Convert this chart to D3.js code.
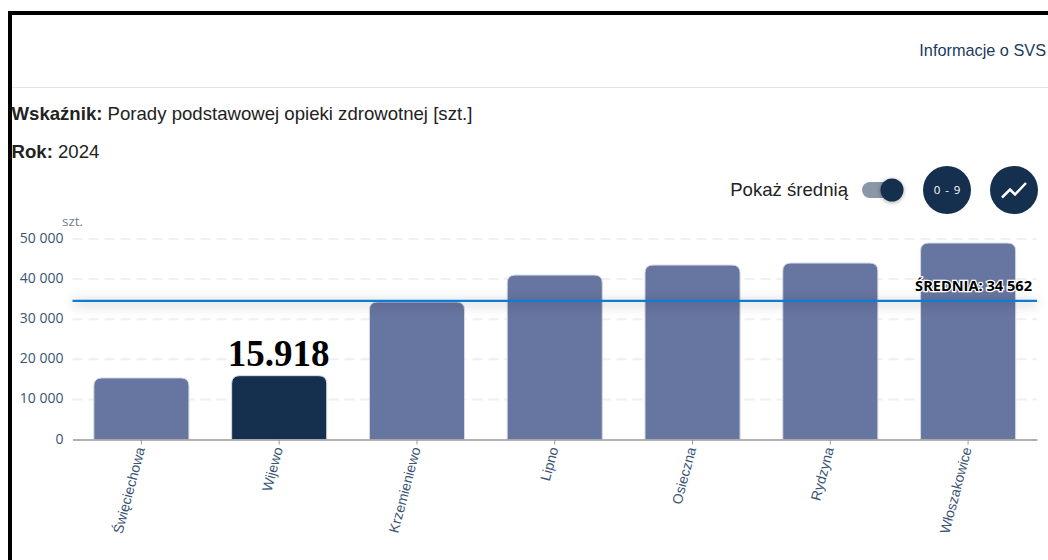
<!DOCTYPE html>
<html>
<head>
<meta charset="utf-8">
<script src="https://cdn.jsdelivr.net/npm/d3@7"></script>
<style>
    html, body { margin: 0; padding: 0; background: #fff; overflow: hidden; }
    svg { display: block; }
</style>
</head>
<body>
<section></section>
<script>
const gminy = ["Święciechowa", "Wijewo", "Krzemieniewo", "Lipno", "Osieczna", "Rydzyna", "Włoszakowice"];
const porady = [15350, 15918, 34300, 41000, 43500, 44000, 49000];
const yTicks = [0, 10000, 20000, 30000, 40000, 50000];
const srednia = 34562;
const wybrana = "Wijewo";

const width = 1048;
const height = 560;
const marginTop = 239;
const marginRight = 11;
const marginBottom = 120.5;
const marginLeft = 72.5;

const sans = "'Liberation Sans', Arial, sans-serif";
const navy = "#152f4e";
const tickColor = "#3a5474";

const fmt = d => d3.format(",")(d).replace(/,/g, " ");

const x = d3.scaleBand()
    .domain(gminy)
    .range([marginLeft, width - marginRight])
    .paddingInner(0.31)
    .paddingOuter(0.155);

const y = d3.scaleLinear()
    .domain([0, 50000])
    .range([height - marginBottom, marginTop]);

const svg = d3.select("section")
    .append("svg")
    .attr("width", width)
    .attr("height", height)
    .attr("viewBox", [0, 0, width, height]);

// naglowek strony
svg.append("rect").attr("x", 8).attr("y", 11).attr("width", 1040).attr("height", 4).attr("fill", "#000");
svg.append("rect").attr("x", 8).attr("y", 11).attr("width", 4).attr("height", 549).attr("fill", "#000");
svg.append("line").attr("x1", 12).attr("x2", width).attr("y1", 87.5).attr("y2", 87.5).attr("stroke", "#e3e3e3");

svg.append("text").attr("x", 1046).attr("y", 56).attr("text-anchor", "end")
    .attr("font-family", sans).attr("font-size", 16.3).attr("fill", "#1b3a5c")
    .text("Informacje o SVS");

const wskaznik = svg.append("text").attr("x", 11.5).attr("y", 120)
    .attr("font-family", sans).attr("font-size", 18.6).attr("fill", "#222");
wskaznik.append("tspan").attr("font-weight", "bold").text("Wskaźnik: ");
wskaznik.append("tspan").text("Porady podstawowej opieki zdrowotnej [szt.]");

const rok = svg.append("text").attr("x", 11.5).attr("y", 158)
    .attr("font-family", sans).attr("font-size", 18.6).attr("fill", "#222");
rok.append("tspan").attr("font-weight", "bold").text("Rok: ");
rok.append("tspan").text("2024");

// przelacznik i przyciski
svg.append("text").attr("x", 848).attr("y", 196).attr("text-anchor", "end")
    .attr("font-family", sans).attr("font-size", 18.6).attr("fill", "#222")
    .text("Pokaż średnią");
svg.append("rect").attr("x", 862).attr("y", 182).attr("width", 38).attr("height", 16).attr("rx", 8).attr("fill", "#8a97a8");
svg.append("circle").attr("cx", 892).attr("cy", 190).attr("r", 11.5).attr("fill", navy)
    .style("filter", "drop-shadow(0 1px 2px rgba(0,0,0,.35))");
svg.append("circle").attr("cx", 947).attr("cy", 190).attr("r", 24).attr("fill", navy);
svg.append("circle").attr("cx", 1014).attr("cy", 190).attr("r", 24).attr("fill", navy);
svg.append("text").attr("x", 947.5).attr("y", 194).attr("text-anchor", "middle")
    .attr("font-family", "'Open Sans', sans-serif").attr("font-size", 11.5).attr("letter-spacing", 0.9).attr("fill", "#fff")
    .text("0 - 9");
svg.append("path").attr("d", "M1002,197.5L1010,189.5L1015,194.5L1026,183")
    .attr("fill", "none").attr("stroke", "#fff").attr("stroke-width", 2.5);

// siatka
svg.append("g")
    .attr("stroke", "#f0f0f0")
    .attr("stroke-width", 2)
    .attr("stroke-dasharray", "10 6")
    .selectAll("line")
    .data(yTicks.slice(1))
    .join("line")
    .attr("x1", marginLeft)
    .attr("x2", width - marginRight)
    .attr("y1", d => y(d))
    .attr("y2", d => y(d));

// slupki z zaokraglonymi gornymi rogami
const barPath = d => {
    const r = 8;
    const x0 = x(d.gmina);
    const x1 = x0 + x.bandwidth();
    const top = y(d.value);
    return `M${x0},${y(0)}V${top + r}Q${x0},${top} ${x0 + r},${top}H${x1 - r}Q${x1},${top} ${x1},${top + r}V${y(0)}Z`;
};

svg.append("g")
    .selectAll("path")
    .data(gminy.map((gmina, i) => ({gmina, value: porady[i]})))
    .join("path")
    .attr("d", barPath)
    .attr("fill", d => d.gmina === wybrana ? navy : "#6776a1")
    .attr("stroke", "#d5d9e6")
    .attr("stroke-width", 1);

// os Y
const yAxis = svg.append("g")
    .attr("transform", `translate(${marginLeft},0)`)
    .call(d3.axisLeft(y).tickValues(yTicks).tickFormat(fmt).tickSize(0).tickPadding(9));
yAxis.select(".domain").remove();
yAxis.selectAll("text")
    .attr("font-family", "'Open Sans', sans-serif")
    .attr("font-size", 14)
    .attr("dy", "0.25em")
    .attr("fill", tickColor);

svg.append("text").attr("x", 62).attr("y", 226)
    .attr("font-family", "'Open Sans', sans-serif").attr("font-size", 13.5).attr("fill", "#77808c")
    .text("szt.");

// os X
const xAxis = svg.append("g")
    .attr("transform", `translate(0,${y(0)})`)
    .call(d3.axisBottom(x).tickSizeInner(5).tickSizeOuter(0).tickPadding(6));
xAxis.select(".domain").attr("stroke", "#999").attr("stroke-width", 1.5);
xAxis.selectAll("line").attr("stroke", "#999");
xAxis.selectAll("text")
    .attr("font-family", sans)
    .attr("font-size", 14)
    .attr("fill", tickColor)
    .attr("text-anchor", "end")
    .attr("dy", "0.35em")
    .attr("transform", "translate(-1,8) rotate(-75)")
    .attr("y", 0)
    .attr("x", 0);

// srednia
svg.append("line")
    .attr("x1", marginLeft)
    .attr("x2", width - marginRight)
    .attr("y1", y(srednia))
    .attr("y2", y(srednia))
    .attr("stroke", "#0c7cd5")
    .attr("stroke-width", 2.4)
    .style("filter", "drop-shadow(0 2px 6px rgba(0,0,0,.45))");

svg.append("text")
    .attr("x", 1032)
    .attr("y", y(srednia) - 10)
    .attr("text-anchor", "end")
    .attr("font-family", "'Open Sans', sans-serif")
    .attr("font-weight", "bold")
    .attr("font-size", 14.6)
    .attr("fill", "#000")
    .attr("stroke", "#fff")
    .attr("stroke-width", 2.5)
    .attr("paint-order", "stroke")
    .text(`ŚREDNIA: ${fmt(srednia)}`);

// wartosc wybranej gminy
svg.append("text")
    .attr("x", x(wybrana) + x.bandwidth() / 2 - 0.5)
    .attr("y", y(porady[gminy.indexOf(wybrana)]) - 10)
    .attr("text-anchor", "middle")
    .attr("font-family", "'Liberation Serif', serif")
    .attr("font-weight", "bold")
    .attr("font-size", 37)
    .attr("fill", "#000")
    .text("15.918");
</script>
</body>
</html>
